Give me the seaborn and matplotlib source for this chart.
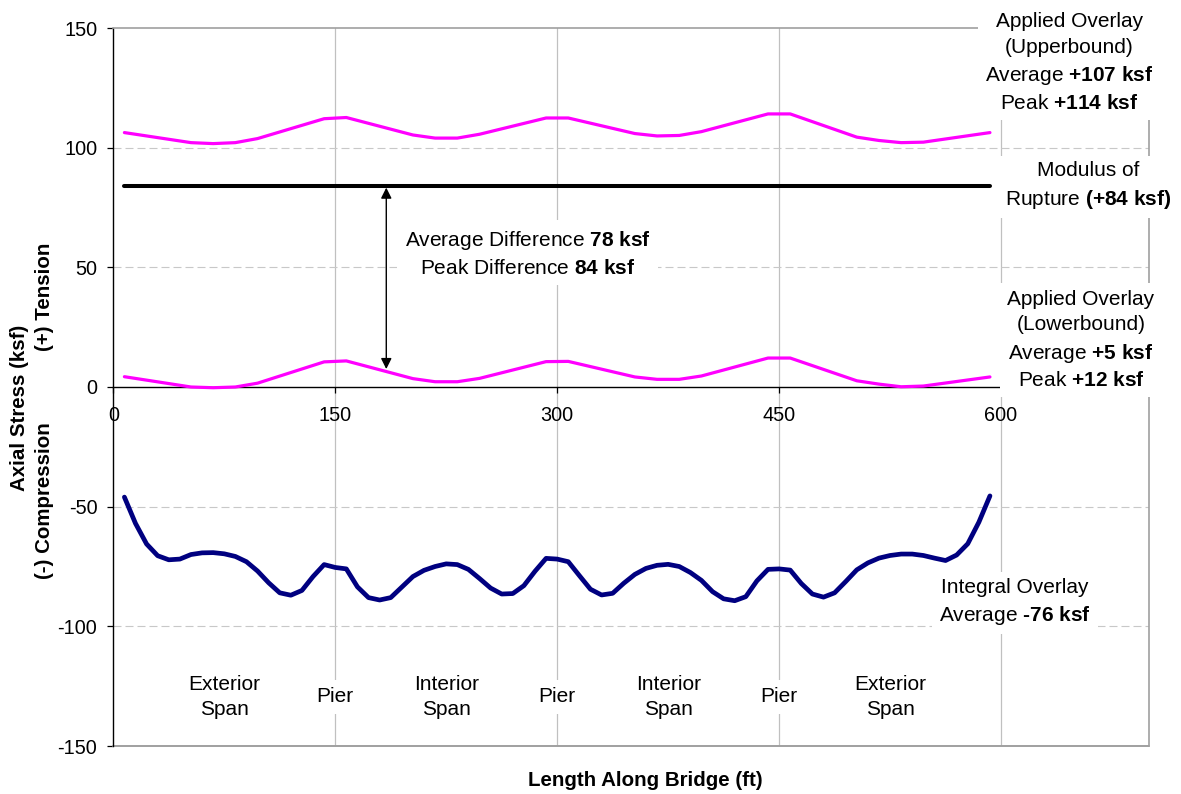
import numpy as np
import pandas as pd
import matplotlib
matplotlib.use("Agg")
import matplotlib.pyplot as plt
import seaborn as sns

# ---- data -------------------------------------------------------------
# Applied overlay stations along the bridge (ft)
overlay_x = [7.5, 52.5, 67.5, 82.5, 97.5, 142.5, 157.5, 202.5, 217.5, 232.5,
             247.5, 292.5, 307.5, 352.5, 367.5, 382.5, 397.5, 442.5, 457.5,
             502.5, 517.5, 532.5, 547.5, 592.5]
upper_bound = [106.3, 102.1, 101.7, 102.1, 103.8, 112.1, 112.6, 105.3, 104.0,
               104.0, 105.6, 112.4, 112.4, 105.9, 104.9, 105.1, 106.7, 114.1,
               114.1, 104.4, 103.0, 102.1, 102.3, 106.3]
lower_bound = [4.3, 0.0, -0.3, 0.0, 1.6, 10.5, 10.9, 3.5, 2.2, 2.2, 3.6, 10.6,
               10.7, 4.2, 3.2, 3.2, 4.6, 12.1, 12.1, 2.6, 1.2, 0.1, 0.4, 4.2]

# Integral overlay stations (ft) and axial stress (ksf)
integral_x = [7.5, 15, 22.5, 30, 37.5, 45, 52.5, 60, 67.5, 75, 82.5, 90, 97.5,
              105, 112.5, 120, 127.5, 135, 142.5, 150, 157.5, 165, 172.5, 180,
              187.5, 195, 202.5, 210, 217.5, 225, 232.5, 240, 247.5, 255,
              262.5, 270, 277.5, 285, 292.5, 300, 307.5, 315, 322.5, 330,
              337.5, 345, 352.5, 360, 367.5, 375, 382.5, 390, 397.5, 405,
              412.5, 420, 427.5, 435, 442.5, 450, 457.5, 465, 472.5, 480,
              487.5, 495, 502.5, 510, 517.5, 525, 532.5, 540, 547.5, 555,
              562.5, 570, 577.5, 585, 592.5]
integral = [-46.0, -57.0, -65.6, -70.5, -72.2, -71.9, -70.0, -69.3, -69.2,
            -69.7, -70.8, -73.0, -76.9, -81.8, -86.0, -87.0, -85.0, -79.2,
            -74.2, -75.4, -76.0, -83.5, -88.0, -89.0, -88.0, -83.6, -79.2,
            -76.6, -75.0, -73.9, -74.2, -76.2, -80.0, -84.0, -86.5, -86.3,
            -83.0, -77.0, -71.6, -71.9, -73.0, -78.8, -84.5, -86.9, -86.2,
            -82.0, -78.3, -75.8, -74.5, -74.1, -75.0, -77.5, -80.8, -85.5,
            -88.5, -89.3, -87.6, -81.0, -76.2, -76.0, -76.5, -82.1, -86.5,
            -87.8, -86.0, -81.3, -76.4, -73.5, -71.5, -70.4, -69.8, -69.8,
            -70.4, -71.5, -72.5, -70.2, -65.5, -56.5, -45.5]

# Modulus of rupture (ksf), drawn over the bridge length
rupture_x = [7.5, 592.5]
modulus_of_rupture = 84

x_ticks = [0, 150, 300, 450, 600]
y_ticks = [-150, -100, -50, 0, 50, 100, 150]

span_labels = ["Exterior\nSpan", "Pier", "Interior\nSpan", "Pier",
               "Interior\nSpan", "Pier", "Exterior\nSpan"]
span_centers = [75, 150, 225, 300, 375, 450, 525]

# ---- style ------------------------------------------------------------
sns.set_style("white")
plt.rcParams["font.family"] = ["Liberation Sans", "DejaVu Sans"]
plt.rcParams["mathtext.fontset"] = "custom"
plt.rcParams["mathtext.rm"] = "Liberation Sans"
plt.rcParams["mathtext.bf"] = "Liberation Sans:bold"
plt.rcParams["mathtext.it"] = "Liberation Sans:italic"
plt.rcParams["mathtext.sf"] = "Liberation Sans"
plt.rcParams["axes.unicode_minus"] = False
plt.rcParams["text.color"] = "black"
plt.rcParams["axes.labelcolor"] = "black"
plt.rcParams["xtick.color"] = "black"
plt.rcParams["ytick.color"] = "black"

MAGENTA = "#FF00FF"
NAVY = "#000080"
GRID = "#C0C0C0"
BORDER = "#A0A0A0"

fig = plt.figure(figsize=(11.81, 7.94), dpi=100)
ax = fig.add_axes([113.3 / 1181, 1 - 746 / 794, (1149 - 113.3) / 1181, 718 / 794])

upper_df = pd.DataFrame({"x": overlay_x, "y": upper_bound})
lower_df = pd.DataFrame({"x": overlay_x, "y": lower_bound})
integral_df = pd.DataFrame({"x": integral_x, "y": integral})
rupture_df = pd.DataFrame({"x": rupture_x, "y": [modulus_of_rupture] * len(rupture_x)})

sns.lineplot(data=upper_df, x="x", y="y", ax=ax, color=MAGENTA, lw=2.3,
             sort=False, estimator=None, zorder=4)
sns.lineplot(data=lower_df, x="x", y="y", ax=ax, color=MAGENTA, lw=2.3,
             sort=False, estimator=None, zorder=4)
sns.lineplot(data=rupture_df, x="x", y="y", ax=ax, color="black", lw=2.9,
             sort=False, estimator=None, zorder=4)
sns.lineplot(data=integral_df, x="x", y="y", ax=ax, color=NAVY, lw=3.4,
             sort=False, estimator=None, zorder=4)
for ln in ax.get_lines():
    ln.set_solid_joinstyle("round")
    ln.set_solid_capstyle("round")

# ---- axes -------------------------------------------------------------
ax.set_xlim(0, 700)
ax.set_ylim(-150, 150)
ax.set_xticks(x_ticks)
ax.set_yticks(y_ticks)
ax.set_xlabel("")
ax.set_ylabel("")

ax.set_axisbelow(True)
for xv in x_ticks[1:]:
    ax.axvline(xv, color=GRID, lw=0.9, zorder=0.5)
for yv in y_ticks:
    if yv not in (0, -150, 150):
        ax.axhline(yv, color="#C8C8C8", lw=0.8, ls=(0, (7.2, 3.6)), zorder=0.5)

ax.spines["bottom"].set_position(("data", 0))
ax.spines["bottom"].set_color("black")
ax.spines["bottom"].set_linewidth(1.0)
ax.spines["left"].set_color("black")
ax.spines["left"].set_linewidth(1.0)
for side in ("top", "right"):
    ax.spines[side].set_color(BORDER)
    ax.spines[side].set_linewidth(1.2)
ax.axhline(-150, color=BORDER, lw=1.4, clip_on=False, zorder=2)

ax.tick_params(axis="both", direction="out", length=4.5, width=0.9,
               color="black", labelsize=14.3, labelcolor="black")
ax.tick_params(axis="x", pad=9, bottom=True)
ax.tick_params(axis="y", pad=7, left=True)

# ---- annotations ------------------------------------------------------
box = dict(facecolor="white", edgecolor="none", boxstyle="square,pad=0.35")
note = dict(ha="center", va="center", fontsize=15, linespacing=1.43,
            color="black", bbox=box, clip_on=False, zorder=10)

ax.text(646, 135.6,
        "Applied Overlay\n(Upperbound)\nAverage $\\mathbf{+107\\ ksf}$\nPeak $\\mathbf{+114\\ ksf}$",
        **note)
ax.text(658.8, 84.0, "Modulus of\nRupture $\\mathbf{(+84\\ ksf)}$", **note)
ax.text(654, 19.6,
        "Applied Overlay\n(Lowerbound)\nAverage $\\mathbf{+5\\ ksf}$\nPeak $\\mathbf{+12\\ ksf}$",
        **note)
ax.text(609.5, -90.0, "Integral Overlay\nAverage $\\mathbf{\u201076\\ ksf}$", **note)
ax.text(279.9, 55.8,
        "Average Difference $\\mathbf{78\\ ksf}$\nPeak Difference $\\mathbf{84\\ ksf}$",
        **note)

for label, xc in zip(span_labels, span_centers):
    ax.text(xc, -129.5, label, **note)

# difference arrow between the rupture line and the lower bound
ax.annotate("", xy=(184.5, 7.5), xytext=(184.5, 83.3),
            arrowprops=dict(arrowstyle="<|-|>", color="black", lw=1.0,
                            mutation_scale=16, shrinkA=0, shrinkB=0),
            zorder=6)

# ---- axis titles ------------------------------------------------------
title_kw = dict(ha="center", va="center", fontsize=14.8, fontweight="bold",
                color="black")
fig.text(645 / 1181, 1 - 781 / 794, "Length Along Bridge (ft)", **title_kw)
fig.text(19.5 / 1181, 1 - 408 / 794, "Axial Stress (ksf)", rotation=90, **title_kw)
fig.text(45 / 1181, 1 - 501 / 794, "(-) Compression", rotation=90, **title_kw)
fig.text(45 / 1181, 1 - 297 / 794, "(+) Tension", rotation=90, **title_kw)

fig.savefig("out.png", dpi=100, facecolor="white")
